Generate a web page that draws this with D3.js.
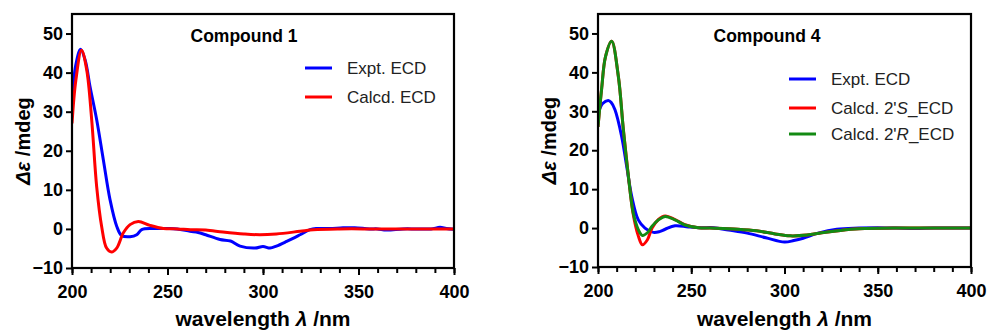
<!DOCTYPE html>
<html>
<head>
<meta charset="utf-8">
<script src="https://cdn.jsdelivr.net/npm/d3@7"></script>
<style>
  body { margin: 0; background: #fff; }
  svg text { font-family: "Liberation Sans", Arial, sans-serif; }
</style>
</head>
<body>
<div id="chart"></div>
<script>
// wavelength ticks and Δε ticks
const xTicks = [200, 250, 300, 350, 400];
const yTicks = [-10, 0, 10, 20, 30, 40, 50];

// Compound 1
const c1ExptX = [200, 202, 204.5, 207, 209.4, 212.9, 216.4, 219.9, 223.4, 226, 230.4, 233.9, 236.5, 242.4, 250, 255, 261.8, 266, 270, 277.5, 283, 288, 295.8, 300, 303.7, 307, 312.4, 319.4, 324.6, 327.8, 335, 341.9, 348, 355.8, 360, 364.6, 373.3, 380, 388, 392.7, 396, 400];
const c1ExptY = [33, 42, 46, 43, 36.5, 28, 17.7, 7.5, 0.7, -1.7, -2, -1.5, -0.2, 0.1, 0.1, 0, -0.6, -0.9, -1.5, -2.7, -3.1, -4.4, -4.9, -4.5, -4.9, -4.4, -3.2, -1.5, -0.2, 0.1, 0.1, 0.3, 0.3, 0, 0, -0.3, 0, 0, 0, 0.4, 0.1, -0.1];
const c1CalcX = [200, 202, 205, 207.7, 210.3, 212.9, 215.5, 218.1, 220.7, 223.4, 226.9, 230.4, 234.7, 240.8, 247.8, 255, 262, 270, 279, 290, 298.4, 307, 319.4, 326.4, 340, 360, 400];
const c1CalcY = [27, 38, 45.7, 40.7, 28, 10.9, 0.7, -4.9, -5.9, -4.9, -1, 1.1, 1.9, 0.9, 0.1, 0, -0.2, -0.3, -0.8, -1.3, -1.5, -1.3, -0.6, -0.2, 0, 0, 0];

// Compound 4
const c4ExptX = [200, 202.5, 205.5, 207, 209.1, 212.7, 215.4, 218.1, 221.6, 225.2, 229.7, 233, 236, 241.3, 248.4, 255, 262, 270, 280, 290, 300, 305, 310, 318, 328, 340, 350, 360, 370, 380, 400];
const c4ExptY = [29.4, 32, 32.8, 32.3, 30.4, 23.5, 15.8, 8.1, 2.1, 0, -1.1, -0.9, -0.3, 0.6, 0.3, 0.1, 0.1, -0.5, -1.3, -2.5, -3.6, -3.2, -2.6, -1.3, -0.3, 0, 0.1, 0, -0.1, 0, 0];
const c4CalcX = [200, 202, 204, 207.3, 210.9, 213.6, 216.3, 218.9, 221.6, 223.8, 226.5, 229, 232.4, 236, 241.3, 246.6, 253.8, 260, 275, 285, 295, 303, 312, 320, 330, 340, 360, 400];
const c4SY = [26, 36, 44, 48, 39, 25.3, 13.3, 3.5, -2, -4.3, -3, 0, 2.2, 3.1, 2.2, 0.9, 0.1, 0, -0.3, -0.7, -1.5, -2, -1.8, -1.2, -0.6, -0.2, 0, 0];
const c4RY = [26, 36, 44, 48, 39, 25.3, 13.3, 3.9, -0.4, -1.9, -1.2, 0.5, 2.1, 3, 2.1, 0.8, 0.1, 0, -0.3, -0.7, -1.5, -2, -1.8, -1.2, -0.6, -0.2, 0, 0];

const svg = d3.select('#chart').append('svg')
  .attr('width', 987)
  .attr('height', 333);

function pts(xs, ys) {
  return xs.map((x, i) => [x, ys[i]]);
}

function drawPanel(p) {
  const x = d3.scaleLinear().domain([200, 400]).range([p.left, p.right]);
  const y = d3.scaleLinear().domain([-10, 55]).range([p.bottom, p.top]);
  const g = svg.append('g');

  const clipId = 'clip' + p.id;
  g.append('clipPath').attr('id', clipId)
    .append('rect')
    .attr('x', p.left).attr('y', p.top)
    .attr('width', p.right - p.left).attr('height', p.bottom - p.top);

  const line = d3.line()
    .x(d => x(d[0]))
    .y(d => y(d[1]))
    .curve(d3.curveCatmullRom.alpha(0.5));

  g.append('g').attr('clip-path', `url(#${clipId})`)
    .selectAll('path')
    .data(p.series)
    .enter().append('path')
    .attr('d', s => line(pts(s.x, s.y)))
    .attr('fill', 'none')
    .attr('stroke', s => s.color)
    .attr('stroke-width', 3)
    .attr('stroke-linejoin', 'round');

  // minor ticks every 10 nm
  g.append('g')
    .attr('transform', `translate(0,${p.bottom})`)
    .call(d3.axisBottom(x).tickValues(d3.range(200, 401, 10)).tickSize(5).tickFormat(''))
    .call(a => a.select('.domain').remove())
    .call(a => a.selectAll('line').attr('stroke', '#000').attr('stroke-width', 2));

  const xAxis = g.append('g')
    .attr('transform', `translate(0,${p.bottom})`)
    .call(d3.axisBottom(x).tickValues(xTicks).tickSize(7).tickSizeOuter(0).tickPadding(10));
  xAxis.select('.domain').remove();
  xAxis.selectAll('line').attr('stroke', '#000').attr('stroke-width', 2);
  xAxis.selectAll('text').attr('font-size', 18).attr('font-weight', 'bold').attr('fill', '#000')
    .style('font-family', '"Liberation Sans", Arial, sans-serif');

  const yAxis = g.append('g')
    .attr('transform', `translate(${p.left},0)`)
    .call(d3.axisLeft(y).tickValues(yTicks).tickSize(6).tickSizeOuter(0).tickPadding(3));
  yAxis.select('.domain').remove();
  yAxis.selectAll('line').attr('stroke', '#000').attr('stroke-width', 2);
  yAxis.selectAll('text').attr('font-size', 18).attr('font-weight', 'bold').attr('fill', '#000')
    .style('font-family', '"Liberation Sans", Arial, sans-serif');

  // frame
  g.append('rect')
    .attr('x', p.left).attr('y', p.top)
    .attr('width', p.right - p.left).attr('height', p.bottom - p.top)
    .attr('fill', 'none').attr('stroke', '#000').attr('stroke-width', 2.2);

  // title
  g.append('text')
    .attr('x', p.titleX).attr('y', 42)
    .attr('text-anchor', 'middle')
    .attr('font-size', 17.5).attr('font-weight', 'bold')
    .text(p.title);

  // legend
  const lg = g.selectAll('.leg')
    .data(p.series)
    .enter().append('g').attr('class', 'leg');
  lg.append('line')
    .attr('x1', p.legX).attr('x2', p.legX + 27)
    .attr('y1', (s, i) => p.legY[i]).attr('y2', (s, i) => p.legY[i])
    .attr('stroke', s => s.color).attr('stroke-width', 3);
  lg.append('text')
    .attr('x', p.legX + 42)
    .attr('y', (s, i) => p.legY[i] + 6)
    .attr('font-size', 17)
    .attr('fill', '#222')
    .each(function (s) {
      const t = d3.select(this);
      s.label.forEach(part => {
        t.append('tspan').attr('font-style', part.it ? 'italic' : 'normal').text(part.t);
      });
    });

  // axis labels
  const xl = g.append('text')
    .attr('x', (p.left + p.right) / 2).attr('y', 326)
    .attr('text-anchor', 'middle')
    .attr('font-size', 21).attr('font-weight', 'bold');
  xl.append('tspan').text('wavelength ');
  xl.append('tspan').attr('font-style', 'italic').text('λ');
  xl.append('tspan').text(' /nm');

  const yl = g.append('text')
    .attr('transform', `translate(${p.left - 42},${(p.top + p.bottom) / 2}) rotate(-90)`)
    .attr('text-anchor', 'middle')
    .attr('font-size', 20).attr('font-weight', 'bold');
  yl.append('tspan').attr('font-style', 'italic').text('Δε');
  yl.append('tspan').text(' /mdeg');
}

drawPanel({
  id: 1, left: 72, right: 454, top: 14, bottom: 268,
  title: 'Compound 1', titleX: 244,
  legX: 305, legY: [68, 97],
  series: [
    { x: c1ExptX, y: c1ExptY, color: '#0000ff', label: [{ t: 'Expt. ECD' }] },
    { x: c1CalcX, y: c1CalcY, color: '#ff0000', label: [{ t: 'Calcd. ECD' }] }
  ]
});

drawPanel({
  id: 4, left: 598, right: 971, top: 14, bottom: 267,
  title: 'Compound 4', titleX: 767,
  legX: 789, legY: [79, 108, 134],
  series: [
    { x: c4ExptX, y: c4ExptY, color: '#0000ff', label: [{ t: 'Expt. ECD' }] },
    { x: c4CalcX, y: c4SY, color: '#ff0000', label: [{ t: "Calcd. 2'" }, { t: 'S', it: true }, { t: '_ECD' }] },
    { x: c4CalcX, y: c4RY, color: '#138a13', label: [{ t: "Calcd. 2'" }, { t: 'R', it: true }, { t: '_ECD' }] }
  ]
});
</script>
</body>
</html>
